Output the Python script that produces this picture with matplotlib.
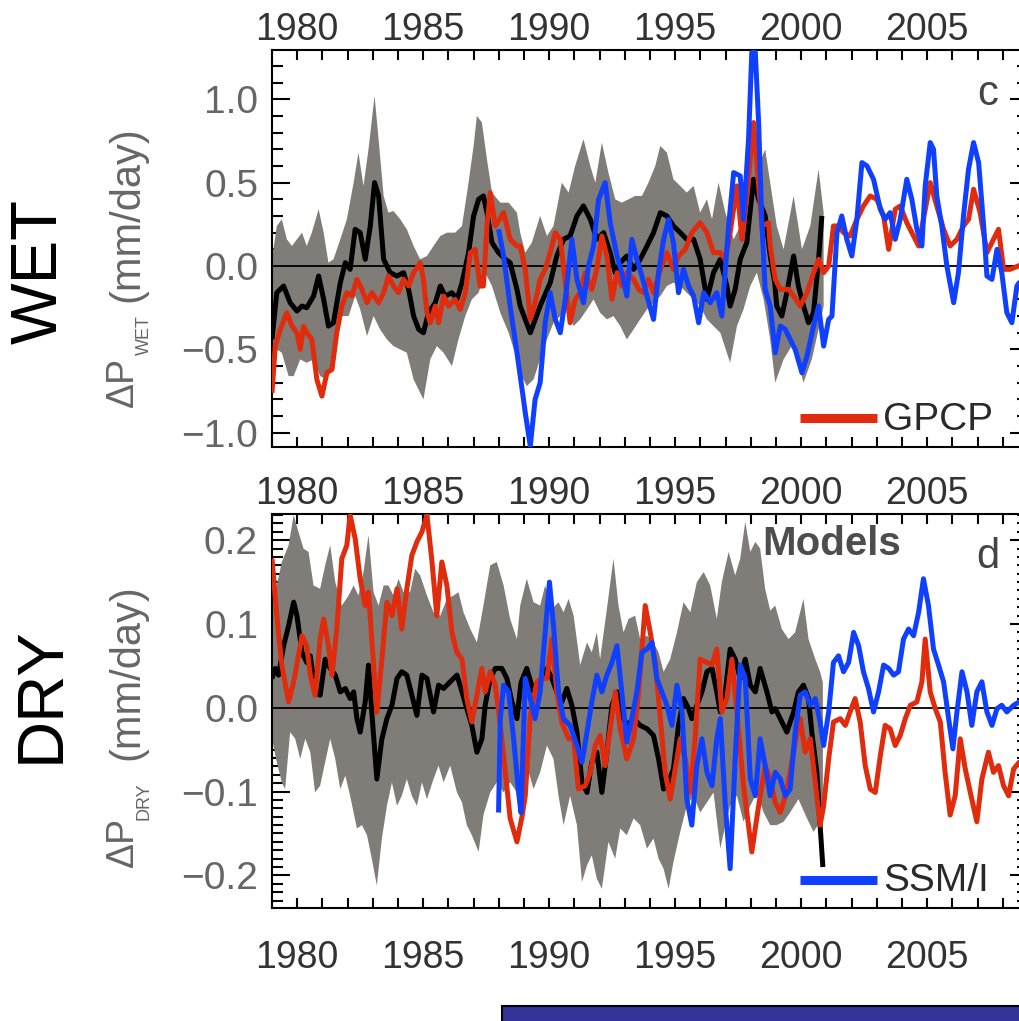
import numpy as np
import matplotlib
matplotlib.use('Agg')
import matplotlib.pyplot as plt
from matplotlib.ticker import MultipleLocator, FixedLocator, FuncFormatter
from matplotlib.patches import Rectangle

plt.rcParams['font.family'] = ['Liberation Sans', 'DejaVu Sans']

# ---------------- data (year, value) ----------------
wet_mean = [(1979.00,-0.44),(1979.19,-0.16),(1979.46,-0.12),(1979.72,-0.22),(1979.99,-0.27),(1980.19,-0.24),(1980.38,-0.25),(1980.65,-0.18),(1980.85,-0.06),(1981.05,-0.20),(1981.24,-0.36),(1981.44,-0.34),(1981.71,-0.10),(1981.91,0.02),(1982.10,-0.02),(1982.30,0.22),(1982.50,0.20),(1982.70,0.04),(1982.90,0.24),(1983.07,0.50),(1983.23,0.42),(1983.43,0.04),(1983.69,-0.04),(1983.96,-0.06),(1984.22,-0.04),(1984.42,-0.14),(1984.62,-0.30),(1984.82,-0.38),(1985.01,-0.40),(1985.21,-0.28),(1985.48,-0.22),(1985.68,-0.12),(1985.87,-0.18),(1986.14,-0.16),(1986.34,-0.20),(1986.54,-0.10),(1986.80,0.08),(1987.00,0.30),(1987.20,0.40),(1987.39,0.42),(1987.53,0.32),(1987.73,0.14),(1987.99,0.08),(1988.26,0.04),(1988.45,0.02),(1988.72,-0.14),(1988.85,-0.24),(1989.25,-0.40),(1989.64,-0.24),(1990.04,-0.10),(1990.30,0.06),(1990.57,0.16),(1990.83,0.18),(1991.10,0.30),(1991.36,0.36),(1991.63,0.28),(1991.89,0.16),(1992.16,0.20),(1992.42,0.08),(1992.62,-0.04),(1992.82,0.02),(1993.08,0.06),(1993.35,-0.02),(1993.61,0.04),(1993.88,0.12),(1994.14,0.20),(1994.41,0.32),(1994.67,0.30),(1994.93,0.24),(1995.20,0.20),(1995.46,0.16),(1995.73,0.16),(1995.99,0.04),(1996.26,-0.20),(1996.52,-0.04),(1996.79,0.04),(1997.05,-0.12),(1997.18,-0.24),(1997.38,-0.14),(1997.58,0.04),(1997.84,0.14),(1998.11,0.52),(1998.31,0.40),(1998.57,0.30),(1998.77,0.06),(1998.95,-0.10),(1999.03,-0.24),(1999.23,-0.30),(1999.43,-0.16),(1999.70,0.06),(1999.89,-0.12),(2000.09,-0.24),(2000.29,-0.34),(2000.49,-0.28),(2000.69,0.04),(2000.82,0.30)]

wet_hi = [(1979.00,0.04),(1979.19,0.24),(1979.39,0.28),(1979.59,0.16),(1979.79,0.12),(1979.99,0.16),(1980.19,0.20),(1980.38,0.12),(1980.58,0.20),(1980.85,0.34),(1981.05,0.20),(1981.24,0.02),(1981.44,0.04),(1981.71,0.16),(1981.97,0.28),(1982.24,0.50),(1982.43,0.68),(1982.63,0.48),(1982.83,0.70),(1983.07,1.02),(1983.23,0.76),(1983.43,0.42),(1983.62,0.32),(1983.82,0.33),(1984.09,0.28),(1984.35,0.22),(1984.62,0.12),(1984.88,0.04),(1985.15,0.06),(1985.41,0.12),(1985.68,0.18),(1985.94,0.20),(1986.27,0.20),(1986.54,0.24),(1986.80,0.50),(1987.00,0.72),(1987.13,0.90),(1987.33,0.86),(1987.53,0.64),(1987.73,0.44),(1988.06,0.38),(1988.39,0.38),(1988.72,0.32),(1988.85,0.20),(1989.05,0.08),(1989.31,0.14),(1989.64,0.30),(1989.91,0.18),(1990.17,0.24),(1990.50,0.50),(1990.77,0.44),(1991.03,0.60),(1991.36,0.76),(1991.63,0.60),(1991.83,0.50),(1992.09,0.74),(1992.35,0.56),(1992.62,0.40),(1992.88,0.38),(1993.15,0.40),(1993.41,0.42),(1993.68,0.42),(1993.94,0.50),(1994.21,0.60),(1994.41,0.72),(1994.67,0.68),(1994.93,0.52),(1995.20,0.48),(1995.46,0.44),(1995.73,0.48),(1995.99,0.32),(1996.26,0.40),(1996.46,0.28),(1996.72,0.50),(1996.99,0.32),(1997.32,0.16),(1997.58,0.24),(1997.84,0.44),(1998.11,0.78),(1998.31,0.60),(1998.57,0.70),(1998.77,0.50),(1999.03,0.24),(1999.30,0.10),(1999.70,0.42),(2000.03,0.10),(2000.36,0.24),(2000.69,0.58),(2000.89,0.32)]

wet_lo = [(1979.00,-0.56),(1979.19,-0.50),(1979.39,-0.52),(1979.66,-0.66),(1979.86,-0.66),(1980.12,-0.56),(1980.38,-0.58),(1980.65,-0.56),(1980.91,-0.66),(1981.18,-0.68),(1981.44,-0.56),(1981.77,-0.30),(1982.04,-0.30),(1982.30,-0.18),(1982.50,-0.26),(1982.77,-0.42),(1983.03,-0.30),(1983.29,-0.38),(1983.56,-0.44),(1983.82,-0.48),(1984.09,-0.50),(1984.35,-0.52),(1984.62,-0.68),(1984.88,-0.76),(1985.01,-0.80),(1985.28,-0.56),(1985.54,-0.48),(1985.81,-0.52),(1986.14,-0.60),(1986.40,-0.44),(1986.67,-0.30),(1986.93,-0.20),(1987.20,-0.16),(1987.46,-0.04),(1987.73,-0.12),(1988.06,-0.28),(1988.39,-0.40),(1988.72,-0.56),(1988.85,-0.64),(1989.11,-0.72),(1989.38,-0.68),(1989.64,-0.56),(1989.91,-0.44),(1990.17,-0.34),(1990.44,-0.30),(1990.70,-0.26),(1990.97,-0.36),(1991.23,-0.32),(1991.50,-0.26),(1991.76,-0.20),(1992.02,-0.28),(1992.29,-0.32),(1992.55,-0.30),(1992.82,-0.36),(1993.08,-0.44),(1993.35,-0.38),(1993.61,-0.32),(1993.88,-0.26),(1994.14,-0.22),(1994.41,-0.18),(1994.67,-0.12),(1994.93,-0.10),(1995.20,-0.12),(1995.46,-0.16),(1995.73,-0.20),(1995.99,-0.24),(1996.26,-0.32),(1996.52,-0.36),(1996.79,-0.40),(1997.18,-0.58),(1997.45,-0.36),(1997.71,-0.26),(1997.98,-0.12),(1998.24,-0.04),(1998.51,-0.20),(1998.77,-0.44),(1998.97,-0.70),(1999.30,-0.56),(1999.70,-0.46),(2000.09,-0.70),(2000.42,-0.56),(2000.75,-0.34),(2000.89,-0.24)]

wet_gpcp = [(1979.00,-0.76),(1979.13,-0.48),(1979.33,-0.38),(1979.59,-0.28),(1979.79,-0.36),(1979.99,-0.40),(1980.12,-0.50),(1980.25,-0.36),(1980.38,-0.40),(1980.58,-0.44),(1980.78,-0.68),(1980.98,-0.78),(1981.18,-0.64),(1981.38,-0.62),(1981.57,-0.40),(1981.77,-0.24),(1981.97,-0.16),(1982.17,-0.18),(1982.37,-0.08),(1982.57,-0.14),(1982.77,-0.22),(1982.96,-0.16),(1983.23,-0.22),(1983.43,-0.16),(1983.62,-0.06),(1983.82,-0.12),(1984.02,-0.16),(1984.22,-0.08),(1984.42,-0.12),(1984.62,-0.04),(1984.88,0.02),(1985.01,-0.08),(1985.15,-0.28),(1985.28,-0.34),(1985.48,-0.24),(1985.61,-0.34),(1985.81,-0.18),(1986.01,-0.24),(1986.27,-0.20),(1986.47,-0.26),(1986.67,-0.16),(1986.87,0.08),(1987.06,0.10),(1987.26,-0.12),(1987.39,-0.12),(1987.53,0.24),(1987.66,0.44),(1987.86,0.24),(1988.19,0.32),(1988.45,0.16),(1988.72,0.12),(1988.85,0.12),(1989.05,-0.02),(1989.25,-0.32),(1989.44,-0.22),(1989.64,-0.08),(1989.84,-0.02),(1990.04,0.08),(1990.24,0.20),(1990.44,0.16),(1990.64,-0.10),(1990.83,-0.34),(1991.03,-0.20),(1991.23,-0.16),(1991.43,-0.04),(1991.69,-0.14),(1991.89,-0.02),(1992.09,0.18),(1992.29,0.06),(1992.49,-0.20),(1992.69,-0.04),(1992.88,-0.12),(1993.08,-0.04),(1993.35,-0.08),(1993.55,-0.14),(1993.74,-0.16),(1993.94,-0.08),(1994.14,-0.16),(1994.41,-0.02),(1994.67,0.08),(1994.93,-0.02),(1995.13,0.06),(1995.40,0.10),(1995.66,0.20),(1995.99,0.26),(1996.26,0.20),(1996.52,0.08),(1996.79,0.08),(1996.99,0.04),(1997.18,0.20),(1997.45,0.48),(1997.65,0.16),(1997.84,0.42),(1998.11,0.86),(1998.24,0.62),(1998.44,0.24),(1998.70,0.26),(1998.77,0.12),(1998.97,-0.08),(1999.17,-0.14),(1999.50,-0.14),(1999.70,-0.18),(1999.96,-0.24),(2000.23,-0.16),(2000.49,-0.04),(2000.69,0.04),(2000.89,-0.04),(2001.09,0.00),(2001.28,0.24),(2001.48,0.24),(2001.68,0.20),(2001.94,0.18),(2002.21,0.28),(2002.47,0.36),(2002.74,0.42),(2003.00,0.40),(2003.27,0.30),(2003.47,0.10),(2003.73,0.34),(2003.93,0.36),(2004.19,0.26),(2004.46,0.18),(2004.66,0.12),(2004.85,0.28),(2005.12,0.50),(2005.38,0.36),(2005.65,0.22),(2005.91,0.12),(2006.18,0.16),(2006.44,0.24),(2006.64,0.28),(2006.84,0.46),(2007.10,0.32),(2007.37,0.08),(2007.63,0.16),(2007.83,0.22),(2008.03,-0.02),(2008.29,-0.02),(2008.62,0.00),(2008.90,0.02)]

wet_ssmi = [(1987.99,0.22),(1988.19,0.06),(1988.45,-0.24),(1988.72,-0.52),(1988.98,-0.80),(1989.05,-0.88),(1989.25,-1.08),(1989.44,-0.80),(1989.64,-0.70),(1989.84,-0.34),(1990.04,-0.16),(1990.24,-0.32),(1990.44,-0.40),(1990.64,-0.20),(1990.90,0.16),(1991.10,-0.08),(1991.36,-0.22),(1991.56,0.00),(1991.76,0.12),(1991.96,0.40),(1992.22,0.50),(1992.42,0.26),(1992.69,0.06),(1992.88,-0.04),(1993.08,-0.18),(1993.28,0.16),(1993.48,0.04),(1993.68,-0.06),(1993.88,-0.18),(1994.14,-0.32),(1994.34,-0.04),(1994.54,0.16),(1994.74,0.28),(1994.93,0.14),(1995.13,-0.16),(1995.33,-0.02),(1995.53,-0.12),(1995.73,-0.18),(1995.93,-0.34),(1996.13,-0.16),(1996.39,-0.22),(1996.65,-0.16),(1996.85,-0.30),(1997.12,0.24),(1997.32,0.56),(1997.58,0.54),(1997.71,0.28),(1997.91,0.76),(1998.04,1.28),(1998.18,1.28),(1998.31,0.86),(1998.44,0.26),(1998.57,-0.14),(1998.77,-0.24),(1998.97,-0.52),(1999.17,-0.36),(1999.37,-0.38),(1999.56,-0.44),(1999.76,-0.50),(2000.03,-0.64),(2000.23,-0.54),(2000.49,-0.36),(2000.69,-0.24),(2000.89,-0.48),(2001.09,-0.32),(2001.22,-0.30),(2001.42,0.20),(2001.61,0.30),(2001.81,0.16),(2002.01,0.06),(2002.21,0.28),(2002.41,0.62),(2002.61,0.60),(2002.87,0.52),(2003.14,0.34),(2003.33,0.28),(2003.53,0.32),(2003.73,0.16),(2003.93,0.28),(2004.19,0.52),(2004.39,0.40),(2004.59,0.22),(2004.79,0.12),(2004.92,0.48),(2005.12,0.74),(2005.25,0.70),(2005.38,0.42),(2005.58,0.24),(2005.78,0.00),(2006.05,-0.22),(2006.24,-0.04),(2006.44,0.30),(2006.64,0.58),(2006.84,0.74),(2007.04,0.62),(2007.24,0.24),(2007.37,-0.06),(2007.57,-0.08),(2007.77,0.10),(2007.96,-0.04),(2008.16,-0.28),(2008.36,-0.34),(2008.56,-0.12),(2008.65,-0.10),(2008.90,-0.10)]

dry_mean = [(1979.00,0.035),(1979.13,0.047),(1979.26,0.039),(1979.46,0.074),(1979.66,0.098),(1979.86,0.126),(1979.99,0.110),(1980.19,0.066),(1980.38,0.054),(1980.52,0.062),(1980.71,0.019),(1980.91,0.015),(1981.11,0.058),(1981.31,0.047),(1981.51,0.039),(1981.71,0.019),(1981.91,0.023),(1982.10,0.011),(1982.24,0.019),(1982.37,-0.013),(1982.50,-0.029),(1982.70,0.007),(1982.83,0.051),(1982.96,-0.005),(1983.16,-0.085),(1983.36,-0.037),(1983.56,-0.013),(1983.76,0.003),(1983.96,0.035),(1984.15,0.043),(1984.35,0.039),(1984.55,0.015),(1984.75,-0.009),(1984.95,0.039),(1985.15,0.035),(1985.41,-0.005),(1985.61,0.027),(1985.81,0.023),(1986.07,0.031),(1986.34,0.039),(1986.54,0.019),(1986.73,-0.001),(1986.93,-0.021),(1987.13,-0.053),(1987.33,-0.037),(1987.46,0.003),(1987.66,0.035),(1987.86,0.047),(1988.12,0.047),(1988.32,0.035),(1988.52,0.007),(1988.72,-0.013),(1988.88,0.030),(1989.11,0.047),(1989.38,0.019),(1989.64,0.031),(1989.91,0.047),(1990.11,0.035),(1990.30,0.019),(1990.50,0.007),(1990.70,0.023),(1990.90,0.003),(1991.10,-0.029),(1991.30,-0.089),(1991.50,-0.101),(1991.69,-0.065),(1991.89,-0.053),(1992.09,-0.101),(1992.29,-0.053),(1992.49,0.003),(1992.69,0.019),(1992.88,-0.009),(1993.08,-0.021),(1993.35,-0.013),(1993.61,-0.021),(1993.88,-0.025),(1994.14,-0.033),(1994.34,-0.061),(1994.54,-0.097),(1994.74,-0.089),(1994.93,-0.073),(1995.13,-0.021),(1995.33,0.011),(1995.53,-0.001),(1995.66,-0.013),(1995.86,0.003),(1996.06,0.019),(1996.26,0.043),(1996.46,0.047),(1996.65,0.019),(1996.79,-0.005),(1996.99,0.019),(1997.18,0.070),(1997.38,0.058),(1997.58,0.035),(1997.78,0.058),(1997.98,0.027),(1998.18,0.019),(1998.37,0.047),(1998.64,0.019),(1998.84,-0.005),(1998.97,-0.001),(1999.17,-0.013),(1999.43,-0.029),(1999.70,-0.005),(1999.89,0.019),(2000.09,0.027),(2000.29,0.011),(2000.42,-0.029),(2000.62,-0.077),(2000.75,-0.140),(2000.86,-0.190)]

dry_hi = [(1979.00,0.138),(1979.19,0.146),(1979.39,0.174),(1979.66,0.194),(1979.86,0.230),(1980.05,0.210),(1980.25,0.190),(1980.45,0.186),(1980.65,0.146),(1980.91,0.142),(1981.11,0.170),(1981.31,0.194),(1981.51,0.150),(1981.77,0.122),(1982.04,0.134),(1982.24,0.146),(1982.43,0.134),(1982.63,0.162),(1982.83,0.206),(1983.03,0.138),(1983.23,0.122),(1983.43,0.146),(1983.62,0.146),(1983.82,0.134),(1984.02,0.154),(1984.22,0.138),(1984.48,0.138),(1984.68,0.166),(1984.88,0.158),(1985.15,0.134),(1985.41,0.114),(1985.68,0.110),(1985.94,0.130),(1986.21,0.134),(1986.40,0.138),(1986.60,0.114),(1986.87,0.094),(1987.13,0.078),(1987.39,0.122),(1987.66,0.170),(1987.92,0.174),(1988.19,0.146),(1988.45,0.106),(1988.72,0.082),(1988.85,0.122),(1989.11,0.154),(1989.38,0.126),(1989.64,0.122),(1989.84,0.146),(1990.11,0.118),(1990.37,0.126),(1990.57,0.114),(1990.77,0.130),(1990.97,0.110),(1991.23,0.051),(1991.50,0.078),(1991.69,0.066),(1991.89,0.090),(1992.02,0.058),(1992.29,0.118),(1992.55,0.178),(1992.75,0.122),(1992.95,0.090),(1993.15,0.106),(1993.41,0.110),(1993.61,0.082),(1993.88,0.086),(1994.14,0.078),(1994.34,0.066),(1994.54,0.043),(1994.80,0.058),(1995.07,0.090),(1995.33,0.126),(1995.60,0.114),(1995.86,0.150),(1996.13,0.162),(1996.39,0.146),(1996.65,0.106),(1996.85,0.150),(1997.12,0.186),(1997.38,0.158),(1997.58,0.178),(1997.78,0.222),(1997.98,0.186),(1998.18,0.198),(1998.37,0.190),(1998.57,0.142),(1998.77,0.116),(1998.97,0.122),(1999.23,0.094),(1999.50,0.082),(1999.76,0.090),(2000.09,0.130),(2000.29,0.082),(2000.56,0.058),(2000.75,0.043),(2000.86,0.030)]

dry_lo = [(1979.00,-0.037),(1979.19,-0.065),(1979.39,-0.089),(1979.52,-0.097),(1979.72,-0.029),(1979.92,-0.037),(1980.12,-0.061),(1980.32,-0.037),(1980.52,-0.053),(1980.71,-0.101),(1980.91,-0.093),(1981.11,-0.065),(1981.31,-0.037),(1981.51,-0.061),(1981.71,-0.097),(1981.91,-0.081),(1982.10,-0.105),(1982.37,-0.144),(1982.57,-0.140),(1982.77,-0.152),(1982.96,-0.180),(1983.16,-0.212),(1983.36,-0.156),(1983.56,-0.117),(1983.76,-0.089),(1983.96,-0.117),(1984.15,-0.105),(1984.35,-0.085),(1984.55,-0.105),(1984.75,-0.117),(1984.95,-0.089),(1985.15,-0.109),(1985.41,-0.085),(1985.61,-0.069),(1985.81,-0.089),(1986.07,-0.069),(1986.34,-0.101),(1986.54,-0.113),(1986.73,-0.140),(1986.93,-0.152),(1987.20,-0.172),(1987.39,-0.128),(1987.66,-0.101),(1987.92,-0.089),(1988.19,-0.101),(1988.45,-0.089),(1988.72,-0.101),(1988.85,-0.105),(1989.11,-0.069),(1989.38,-0.097),(1989.64,-0.077),(1989.91,-0.045),(1990.17,-0.061),(1990.37,-0.105),(1990.57,-0.140),(1990.83,-0.105),(1991.10,-0.140),(1991.30,-0.208),(1991.50,-0.188),(1991.69,-0.176),(1991.89,-0.204),(1992.09,-0.216),(1992.35,-0.160),(1992.62,-0.180),(1992.82,-0.144),(1993.08,-0.152),(1993.35,-0.132),(1993.61,-0.140),(1993.88,-0.168),(1994.14,-0.156),(1994.34,-0.180),(1994.54,-0.192),(1994.74,-0.216),(1994.93,-0.184),(1995.20,-0.148),(1995.46,-0.117),(1995.73,-0.105),(1995.99,-0.125),(1996.26,-0.113),(1996.52,-0.101),(1996.79,-0.168),(1996.99,-0.140),(1997.18,-0.117),(1997.45,-0.105),(1997.71,-0.136),(1997.98,-0.117),(1998.24,-0.101),(1998.51,-0.125),(1998.77,-0.140),(1999.03,-0.140),(1999.30,-0.136),(1999.56,-0.125),(1999.89,-0.109),(2000.23,-0.132),(2000.49,-0.148),(2000.75,-0.136),(2000.86,-0.130)]

dry_gpcp = [(1979.00,0.178),(1979.19,0.110),(1979.39,0.051),(1979.66,0.007),(1979.86,0.031),(1980.05,0.062),(1980.19,0.086),(1980.38,0.074),(1980.52,0.039),(1980.71,0.015),(1980.91,0.082),(1981.05,0.106),(1981.24,0.074),(1981.38,0.039),(1981.57,0.094),(1981.77,0.178),(1981.97,0.194),(1982.10,0.230),(1982.30,0.202),(1982.50,0.154),(1982.70,0.122),(1982.83,0.138),(1982.96,0.082),(1983.16,-0.005),(1983.36,0.058),(1983.56,0.126),(1983.76,0.110),(1983.96,0.142),(1984.15,0.094),(1984.35,0.142),(1984.55,0.182),(1984.75,0.198),(1984.95,0.210),(1985.15,0.230),(1985.35,0.174),(1985.54,0.110),(1985.74,0.174),(1985.94,0.146),(1986.14,0.090),(1986.34,0.066),(1986.54,0.058),(1986.73,0.011),(1986.93,-0.017),(1987.13,0.015),(1987.33,0.047),(1987.46,0.019),(1987.66,0.043),(1987.86,0.027),(1988.06,-0.021),(1988.26,-0.077),(1988.45,-0.132),(1988.72,-0.160),(1988.92,-0.130),(1989.05,-0.105),(1989.25,-0.009),(1989.51,0.031),(1989.71,0.035),(1989.91,0.035),(1990.11,0.082),(1990.30,0.019),(1990.50,-0.017),(1990.77,-0.037),(1990.97,-0.037),(1991.16,-0.097),(1991.43,-0.093),(1991.63,-0.077),(1991.83,-0.045),(1992.02,-0.033),(1992.22,-0.069),(1992.42,-0.025),(1992.62,0.019),(1992.82,-0.025),(1993.08,-0.061),(1993.35,-0.037),(1993.55,0.019),(1993.81,0.122),(1994.01,0.090),(1994.21,0.054),(1994.41,-0.013),(1994.60,-0.077),(1994.80,-0.109),(1995.00,-0.073),(1995.20,-0.037),(1995.40,-0.061),(1995.60,-0.101),(1995.79,-0.037),(1995.99,0.058),(1996.26,0.054),(1996.46,0.051),(1996.65,0.070),(1996.85,-0.005),(1997.05,0.011),(1997.25,0.058),(1997.45,-0.005),(1997.71,-0.093),(1998.04,-0.172),(1998.31,-0.117),(1998.57,-0.069),(1998.77,-0.085),(1998.97,-0.113),(1999.17,-0.125),(1999.37,-0.105),(1999.56,-0.077),(1999.76,-0.041),(1999.96,-0.013),(2000.16,-0.053),(2000.36,-0.037),(2000.56,-0.089),(2000.75,-0.140),(2000.89,-0.117),(2001.09,-0.061),(2001.28,-0.017),(2001.55,-0.013),(2001.75,-0.021),(2001.94,-0.005),(2002.14,0.011),(2002.34,-0.017),(2002.54,-0.069),(2002.74,-0.097),(2002.94,-0.101),(2003.14,-0.057),(2003.33,-0.021),(2003.53,-0.025),(2003.73,-0.045),(2003.93,-0.033),(2004.13,-0.013),(2004.33,0.003),(2004.59,0.007),(2004.79,0.031),(2004.92,0.082),(2005.12,0.019),(2005.32,-0.001),(2005.52,-0.017),(2005.71,-0.077),(2005.91,-0.128),(2006.11,-0.105),(2006.31,-0.037),(2006.51,-0.073),(2006.71,-0.101),(2006.97,-0.136),(2007.17,-0.085),(2007.43,-0.053),(2007.63,-0.077),(2007.83,-0.069),(2008.03,-0.093),(2008.23,-0.105),(2008.43,-0.073),(2008.65,-0.065),(2008.90,-0.065)]

dry_ssmi = [(1987.99,-0.125),(1988.06,-0.013),(1988.19,0.027),(1988.39,0.019),(1988.59,-0.037),(1988.78,-0.100),(1988.88,-0.125),(1989.05,0.035),(1989.25,0.011),(1989.44,-0.013),(1989.64,0.019),(1989.84,0.090),(1990.01,0.150),(1990.17,0.098),(1990.37,0.019),(1990.57,-0.013),(1990.83,-0.021),(1991.10,-0.045),(1991.30,-0.065),(1991.50,-0.029),(1991.69,0.007),(1991.89,0.039),(1992.09,0.019),(1992.29,0.039),(1992.49,0.054),(1992.69,0.074),(1992.88,0.019),(1993.08,-0.041),(1993.28,-0.013),(1993.48,0.019),(1993.68,0.066),(1993.88,0.070),(1994.08,0.078),(1994.27,0.035),(1994.47,0.019),(1994.67,0.003),(1994.87,-0.021),(1995.07,0.027),(1995.27,-0.005),(1995.46,-0.109),(1995.66,-0.140),(1995.86,-0.069),(1996.06,-0.037),(1996.26,-0.077),(1996.46,-0.093),(1996.65,-0.037),(1996.79,-0.013),(1996.99,-0.117),(1997.18,-0.192),(1997.38,-0.061),(1997.58,0.051),(1997.78,0.035),(1997.98,-0.085),(1998.18,-0.105),(1998.37,-0.037),(1998.57,-0.069),(1998.77,-0.105),(1998.97,-0.077),(1999.17,-0.085),(1999.37,-0.105),(1999.56,-0.097),(1999.76,-0.029),(1999.96,0.015),(2000.16,0.019),(2000.36,0.003),(2000.56,0.011),(2000.75,-0.017),(2000.89,-0.045),(2001.09,-0.005),(2001.28,0.054),(2001.48,0.062),(2001.68,0.043),(2001.88,0.054),(2002.08,0.090),(2002.28,0.074),(2002.47,0.043),(2002.67,0.023),(2002.87,-0.005),(2003.07,0.019),(2003.27,0.051),(2003.47,0.047),(2003.67,0.039),(2003.86,0.043),(2004.06,0.082),(2004.26,0.094),(2004.46,0.086),(2004.66,0.114),(2004.85,0.154),(2005.05,0.122),(2005.25,0.070),(2005.45,0.051),(2005.65,0.031),(2005.85,-0.013),(2006.02,-0.049),(2006.18,-0.005),(2006.38,0.043),(2006.58,0.019),(2006.77,-0.021),(2006.97,0.019),(2007.17,0.031),(2007.37,-0.005),(2007.57,-0.021),(2007.77,-0.001),(2007.96,0.003),(2008.16,-0.005),(2008.43,0.003),(2008.65,0.007),(2008.90,0.007)]

x_range = (1979.0, 2009.0)
year_labels = [1980, 1985, 1990, 1995, 2000, 2005]
wet_ylim = (-1.085, 1.295)
dry_ylim = (-0.2394, 0.2315)

C_RED = '#e02b0c'
C_BLUE = '#0f3fff'
C_GREY = '#807c78'
C_XLAB = '#333333'
C_YLAB = '#666666'

# ---------------- figure ----------------
W, H = 1019, 1021
fig = plt.figure(figsize=(W / 100, H / 100), dpi=100)


def add_px_axes(l, t, r, b):
    return fig.add_axes([l / W, 1 - b / H, (r - l) / W, (b - t) / H])


ax1 = add_px_axes(272, 50, 1028, 447)
ax2 = add_px_axes(272, 513.8, 1028, 908.4)


def yfmt(v, pos):
    if abs(v) < 1e-9:
        v = 0.0
    return f"{v:.1f}".replace('-', '\u2212')


def style(ax, ylim, ymaj, ymin):
    ax.set_xlim(*x_range)
    ax.set_ylim(*ylim)
    ax.xaxis.set_major_locator(FixedLocator(year_labels))
    ax.xaxis.set_minor_locator(MultipleLocator(1))
    ax.yaxis.set_major_locator(MultipleLocator(ymaj))
    ax.yaxis.set_minor_locator(MultipleLocator(ymin))
    ax.yaxis.set_major_formatter(FuncFormatter(yfmt))
    ax.tick_params(axis='both', which='both', direction='in', top=True,
                   right=True, width=1.5, color='black')
    ax.tick_params(axis='x', which='both', length=7, labeltop=True,
                   labelbottom=False, pad=1.5, labelsize=27,
                   labelcolor=C_XLAB)
    ax.tick_params(axis='y', which='major', length=13, pad=10,
                   labelsize=28, labelcolor=C_YLAB)
    ax.tick_params(axis='y', which='minor', length=8)
    for s in ax.spines.values():
        s.set_linewidth(1.5)
    ax.set_axisbelow(True)


def draw(ax, mean, hi, lo, gp, ss):
    hx, hy = zip(*hi)
    lx, ly = zip(*lo)
    ax.fill(np.r_[hx, lx[::-1]], np.r_[hy, ly[::-1]], color=C_GREY,
            lw=0, zorder=1)
    ax.axhline(0, color='black', lw=1.3, zorder=1.5)
    kw = dict(lw=3.6, solid_joinstyle='round', solid_capstyle='butt')
    ax.plot(*zip(*mean), color='black', zorder=2, **kw)
    ax.plot(*zip(*gp), color=C_RED, zorder=3, **kw)
    ax.plot(*zip(*ss), color=C_BLUE, zorder=4, **kw)


style(ax1, wet_ylim, 0.5, 0.1)
style(ax2, dry_ylim, 0.1, 0.01)
draw(ax1, wet_mean, wet_hi, wet_lo, wet_gpcp, wet_ssmi)
draw(ax2, dry_mean, dry_hi, dry_lo, dry_gpcp, dry_ssmi)

# bottom tick labels of the lower panel
sec = ax2.secondary_xaxis('bottom')
sec.xaxis.set_major_locator(FixedLocator(year_labels))
sec.tick_params(length=0, pad=22.5, labelsize=27, labelcolor=C_XLAB)
sec.spines['bottom'].set_visible(False)

# legend entries
ax1.plot([0.698, 0.800], [0.073, 0.073], transform=ax1.transAxes,
         color=C_RED, lw=6.5, solid_capstyle='butt', zorder=5)
ax1.text(0.808, 0.043, 'GPCP', transform=ax1.transAxes, fontsize=28,
         color='#2a2a2a', ha='left', va='baseline', zorder=5)
ax2.plot([0.698, 0.800], [0.072, 0.072], transform=ax2.transAxes,
         color=C_BLUE, lw=6.5, solid_capstyle='butt', zorder=5)
ax2.text(0.808, 0.044, 'SSM/I', transform=ax2.transAxes, fontsize=28,
         color='#2a2a2a', ha='left', va='baseline', zorder=5)

# panel letters and label
ax1.text(0.947, 0.861, 'c', transform=ax1.transAxes, fontsize=30,
         color='#444444', ha='center', va='baseline')
ax2.text(0.947, 0.863, 'd', transform=ax2.transAxes, fontsize=30,
         color='#444444', ha='center', va='baseline')
ax2.text(0.649, 0.896, 'Models', transform=ax2.transAxes, fontsize=29,
         fontweight='bold', color='#4d4d4d', ha='left', va='baseline',
         zorder=6)

# big row labels
fig.text(40 / W, 1 - 271 / H, 'WET', rotation=90, fontsize=47,
         ha='center', va='center')
fig.text(42 / W, 1 - 694.5 / H, 'DRY', rotation=90, fontsize=47,
         ha='center', va='center')


# y-axis labels built from pieces (Delta P, subscript, units)
def ylabel(sub, y_dp, y_sub, y_units):
    kw = dict(rotation=90, rotation_mode='anchor', ha='left',
              va='baseline', color=C_YLAB)
    fig.text(133 / W, 1 - y_dp / H, '\u0394P', fontsize=27, **kw)
    fig.text(149 / W, 1 - y_sub / H, sub, fontsize=13, **kw)
    fig.text(138 / W, 1 - y_units / H, '(mm/day)', fontsize=30, **kw)


ylabel('WET', 407, 355, 302)
ylabel('DRY', 867, 820, 760)

# blue bar at the bottom
fig.add_artist(Rectangle((502 / W, -0.01), 1.0, 15 / H + 0.01,
                         transform=fig.transFigure, facecolor='#333399',
                         edgecolor='black', lw=1.5))

fig.savefig('out.png', dpi=100)
